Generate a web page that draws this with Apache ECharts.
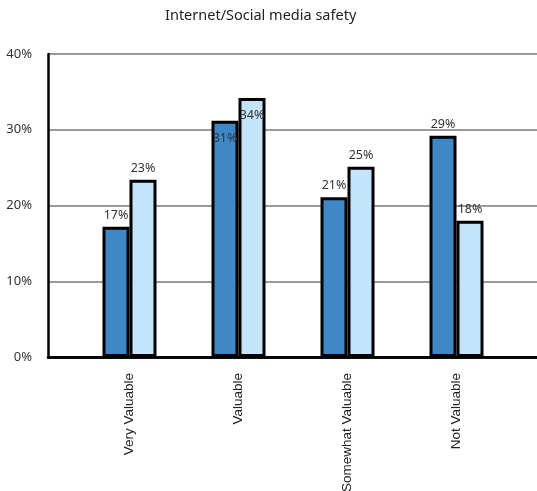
<!DOCTYPE html>
<html><head><meta charset="utf-8">
<script src="https://cdn.jsdelivr.net/npm/echarts@6/dist/echarts.min.js"></script>
<style>html,body{margin:0;padding:0;background:#fff}#c{width:537px;height:491px}</style>
</head><body><div id="c"></div>
<script>
var title = 'Internet/Social media safety';
var categories = ['Very Valuable', 'Valuable', 'Somewhat Valuable', 'Not Valuable'];
var seriesA = [17.2, 31.2, 21.1, 29.2];
var seriesB = [23.4, 34.2, 25.1, 18.0];
var labelsA = ['17%', '31%', '21%', '29%'];
var labelsB = ['23%', '34%', '25%', '18%'];
var insideIdx = [1];

function mk(vals, labs) {
  return vals.map(function (v, i) {
    var d = { value: v, lab: labs[i] };
    if (insideIdx.indexOf(i) >= 0) d.label = { position: 'insideTop', distance: 11 };
    return d;
  });
}
var chart = echarts.init(document.getElementById('c'), null, { renderer: 'canvas' });
var lblFont = { fontFamily: 'Noto Sans', fontSize: 12.5, color: '#333' };
chart.setOption({
  animation: false,
  title: { text: title, left: 160, top: 3, textStyle: { fontFamily: 'Noto Sans', fontSize: 14.5, fontWeight: 'normal', color: '#222' } },
  grid: [
    { left: 48, right: -5, top: 54, bottom: 134, outerBoundsMode: 'none' },
    { left: 75, right: 26, top: 54, bottom: 134, outerBoundsMode: 'none' }
  ],
  xAxis: [
    { gridIndex: 0, type: 'value', min: 0, max: 1, position: 'bottom', axisLine: { show: true, onZero: false, lineStyle: { color: '#000', width: 2.5 } }, axisLabel: { show: false }, axisTick: { show: false }, splitLine: { show: false } },
    { gridIndex: 0, type: 'value', min: 0, max: 1, position: 'top', axisLine: { show: true, lineStyle: { color: '#000', width: 2.5 } }, axisLabel: { show: false }, axisTick: { show: false }, splitLine: { show: false } },
    { gridIndex: 1, type: 'category', data: categories, axisLine: { show: false }, axisTick: { show: false },
      axisLabel: { rotate: 90, margin: 16, fontFamily: 'Liberation Sans', fontSize: 13.5, color: '#222' } }
  ],
  yAxis: [
    { gridIndex: 0, type: 'value', min: 0, max: 40, interval: 10,
      axisLabel: { formatter: '{value}%', margin: 16, fontFamily: 'Noto Sans', fontSize: 13, color: '#333' },
      axisLine: { show: true, lineStyle: { color: '#000', width: 2.5 } }, axisTick: { show: false },
      splitLine: { show: true, lineStyle: { color: '#9a9a9a', width: 2 } } },
    { gridIndex: 1, type: 'value', min: 0, max: 40, interval: 10, show: false, splitLine: { show: false } }
  ],
  series: [
    { type: 'bar', xAxisIndex: 2, yAxisIndex: 1, data: mk(seriesA, labelsA), barWidth: 27, barGap: '0%',
      itemStyle: { color: '#3f88c8', borderColor: '#000', borderWidth: 3 },
      label: Object.assign({ show: true, position: 'top', distance: 5, formatter: function (p) { return p.data.lab; } }, lblFont) },
    { type: 'bar', xAxisIndex: 2, yAxisIndex: 1, data: mk(seriesB, labelsB), barWidth: 27,
      itemStyle: { color: '#c4e4fc', borderColor: '#000', borderWidth: 3 },
      label: Object.assign({ show: true, position: 'top', distance: 5, formatter: function (p) { return p.data.lab; } }, lblFont) }
  ]
});
</script></body></html>
